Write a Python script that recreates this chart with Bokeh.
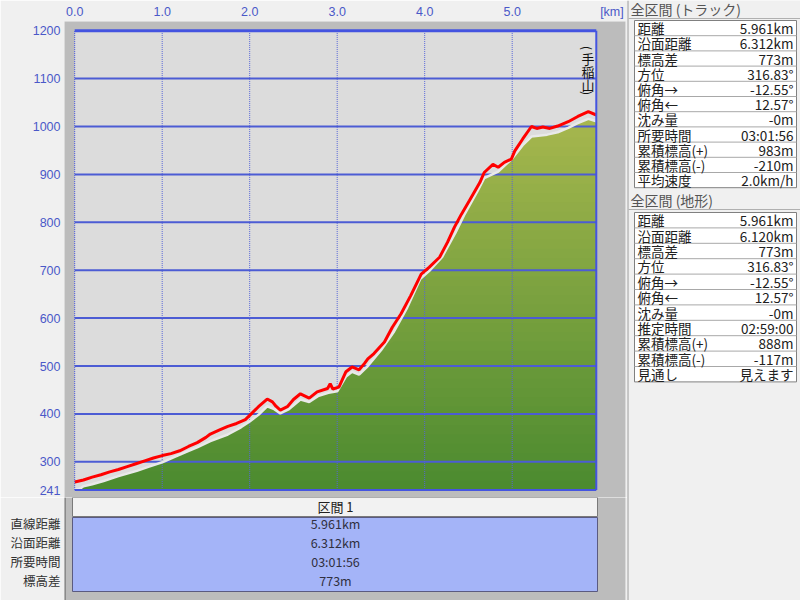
import numpy as np
from bokeh.plotting import figure
from bokeh.layouts import row, column
from bokeh.models import Range1d, FixedTicker, NumeralTickFormatter
from bokeh.core.properties import value
from bokeh.embed import file_html
from bokeh.resources import INLINE

# ---------------- data ----------------
track_km = [0.00, 0.10, 0.20, 0.30, 0.40, 0.50, 0.60, 0.70, 0.80, 0.90,
            1.00, 1.10, 1.20, 1.30, 1.40, 1.50, 1.55, 1.65, 1.75, 1.85,
            1.95, 2.00, 2.10, 2.20, 2.26, 2.30, 2.35, 2.43, 2.50, 2.58,
            2.68, 2.77, 2.89, 2.92, 2.95, 3.02, 3.10, 3.17, 3.25, 3.31,
            3.35, 3.42, 3.54, 3.63, 3.73, 3.84, 3.96, 4.05, 4.17, 4.26,
            4.34, 4.42, 4.51, 4.63, 4.68, 4.78, 4.84, 4.91, 4.99, 5.03,
            5.12, 5.22, 5.28, 5.35, 5.43, 5.52, 5.64, 5.75, 5.87, 5.961]
track_m = [258, 262, 268, 273, 279, 284, 290, 296, 302, 308,
           313, 317, 323, 332, 340, 351, 358, 366, 374, 380,
           388, 397, 415, 431, 425, 416, 408, 415, 430, 442,
           433, 446, 453, 463, 452, 456, 488, 498, 492, 505,
           515, 526, 550, 581, 609, 647, 692, 706, 727, 758,
           790, 817, 845, 883, 904, 921, 915, 925, 932, 949,
           974, 1000, 996, 999, 996, 1001, 1010, 1021, 1031, 1024]

terrain_km = [0.00, 0.06, 0.10, 0.20, 0.33, 0.50, 0.71, 0.85, 1.00, 1.15,
              1.29, 1.40, 1.55, 1.75, 1.90, 2.00, 2.10, 2.20, 2.28, 2.35,
              2.45, 2.58, 2.68, 2.78, 2.90, 3.00, 3.10, 3.17, 3.25, 3.35,
              3.50, 3.65, 3.80, 3.95, 4.05, 4.20, 4.35, 4.45, 4.60, 4.68,
              4.84, 5.00, 5.12, 5.22, 5.40, 5.52, 5.64, 5.75, 5.87, 5.961]
terrain_m = [241, 244, 249, 253, 260, 270, 281, 290, 299, 311,
             322, 330, 343, 357, 372, 384, 398, 416, 410, 401,
             410, 430, 425, 437, 444, 447, 478, 488, 482, 500,
             533, 572, 622, 682, 698, 728, 778, 815, 864, 892,
             906, 933, 961, 979, 983, 988, 997, 1007, 1016, 1011]

x_ticks = [0, 1, 2, 3, 4, 5]
x_max = 5.961
km_unit_label = "[km]"
km_unit_pos = 6.14
y_min = 241
y_max = 1200
y_grid = [300, 400, 500, 600, 700, 800, 900, 1000, 1100]

peak_name = "手稲山"
peak_label_km = 5.865
peak_label_m = 1143

section_title = "区間 1"
section_labels = ["直線距離", "沿面距離", "所要時間", "標高差"]
section_values = ["5.961km", "6.312km", "03:01:56", "773m"]

track_title = "全区間 (トラック)"
track_labels = ["距離", "沿面距離", "標高差", "方位", "俯角→", "俯角←", "沈み量",
                "所要時間", "累積標高(+)", "累積標高(-)", "平均速度"]
track_values = ["5.961km", "6.312km", "773m", "316.83°", "-12.55°", "12.57°", "-0m",
                "03:01:56", "983m", "-210m", "2.0km/h"]

terrain_title = "全区間 (地形)"
terrain_labels = ["距離", "沿面距離", "標高差", "方位", "俯角→", "俯角←", "沈み量",
                  "推定時間", "累積標高(+)", "累積標高(-)", "見通し"]
terrain_values = ["5.961km", "6.120km", "773m", "316.83°", "-12.55°", "12.57°", "-0m",
                  "02:59:00", "888m", "-117m", "見えます"]

# ---------------- style ----------------
JP = value("Noto Sans CJK JP")
BLUE = "#4a58c8"
GRID = "#4c5cd4"
PANEL_BG = "#f0f0f0"
FRAME_GRAY = "#bcbcbc"
TXT = "#202020"


def plain_axis(ax, standoff, color, font, size):
    ax.axis_line_color = None
    ax.major_tick_line_color = None
    ax.minor_tick_line_color = None
    ax.major_tick_out = 0
    ax.major_tick_in = 0
    ax.major_label_standoff = standoff
    ax.major_label_text_color = color
    ax.major_label_text_font = font
    ax.major_label_text_font_size = size


# ---------------- chart ----------------
PX_KM = 87.5
PX_M = 0.479
FW, FH = 561, 476
X0_PX = 10.2      # 0 km from frame left
YT_PX = 9.2       # top value from frame top
x_start = -X0_PX / PX_KM
x_end = x_start + FW / PX_KM
y_end = y_max + YT_PX / PX_M
y_start = y_end - FH / PX_M

p = figure(width=627, height=497, x_range=Range1d(x_start, x_end),
           y_range=Range1d(y_start, y_end), output_backend="svg",
           toolbar_location=None, x_axis_location="above",
           min_border_left=64, min_border_right=2, min_border_top=21, min_border_bottom=0,
           background_fill_color=FRAME_GRAY, border_fill_color=PANEL_BG,
           outline_line_color=None)
p.grid.visible = False

xa = p.xaxis[0]
xa.ticker = FixedTicker(ticks=x_ticks + [km_unit_pos])
xa.formatter = NumeralTickFormatter(format="0.0")
xa.major_label_overrides = {km_unit_pos: km_unit_label}
ya = p.yaxis[0]
ya.ticker = FixedTicker(ticks=[y_min] + y_grid + [y_max])
plain_axis(xa, 3, BLUE, "Liberation Sans", "12.5px")
plain_axis(ya, 4, BLUE, "Liberation Sans", "12.5px")

# plot area background
p.quad(left=[0], right=[x_max], bottom=[y_min], top=[y_max],
       fill_color="#dcdcdc", line_color=None)

# terrain fill with vertical gradient (bands)
terr = np.array(terrain_m, dtype=float)
c_bot = np.array([0x4a, 0x8a, 0x2f])
c_top = np.array([0xa6, 0xb7, 0x4e])
top_lvl = terr.max()
levels = np.linspace(top_lvl, y_min, 40, endpoint=False)
for lv in levels:
    f = (lv - y_min) / (top_lvl - y_min)
    c = (c_bot + (c_top - c_bot) * f).astype(int)
    col = "#%02x%02x%02x" % tuple(c)
    p.varea(x=terrain_km, y1=[y_min] * len(terrain_km), y2=np.minimum(terr, lv),
            fill_color=col)

# grid
p.segment(x0=[0] * len(y_grid), x1=[x_max] * len(y_grid), y0=y_grid, y1=y_grid,
          line_color=GRID, line_width=2)
vx = x_ticks[1:]
p.segment(x0=vx, x1=vx, y0=[y_min] * len(vx), y1=[y_max] * len(vx),
          line_color="#5666d8", line_width=1, line_dash="1 1")

# terrain edge and track
p.line(terrain_km, terrain_m, line_color="#e9e9e9", line_width=2.5)
p.line(track_km, track_m, line_color="#ff0000", line_width=3)

# plot border
p.segment(x0=[0], x1=[x_max], y0=[y_max], y1=[y_max], line_color="#4454e0", line_width=3)
p.segment(x0=[0], x1=[x_max], y0=[y_min], y1=[y_min], line_color="#4454e0", line_width=2)
p.segment(x0=[x_max], x1=[x_max], y0=[y_min], y1=[y_max], line_color="#4454e0", line_width=2)
p.segment(x0=[0], x1=[0], y0=[y_min], y1=[y_max], line_color="#4454e0", line_width=1,
          line_dash="1 1")

# vertical peak label (tategaki)
kanji = list(peak_name)
ky = peak_label_m - np.arange(len(kanji)) * 13 / PX_M
p.text(x=[peak_label_km] * len(kanji), y=list(ky), text=kanji,
       text_align="center", text_baseline="middle", text_font=JP,
       text_font_size="13px", text_color="#101010")
py_ = [peak_label_m + 10 / PX_M, peak_label_m - 35 / PX_M]
p.text(x=[peak_label_km] * 2, y=py_, text=["(", ")"], angle=-np.pi / 2,
       text_align="center", text_baseline="middle", text_font=JP,
       text_font_size="12px", text_color="#101010")

# ---------------- section table ----------------
ry = [523 + 19 * i for i in range(len(section_values))]
t = figure(width=627, height=103, x_range=Range1d(64, 625), y_range=Range1d(600, 497),
           x_axis_type=None, output_backend="svg",
           toolbar_location=None, min_border_left=64, min_border_right=2,
           min_border_top=0, min_border_bottom=0,
           background_fill_color=FRAME_GRAY, border_fill_color=PANEL_BG,
           outline_line_color=None)
t.grid.visible = False
ta = t.yaxis[0]
ta.ticker = FixedTicker(ticks=ry)
ta.major_label_overrides = {v: s for v, s in zip(ry, section_labels)}
plain_axis(ta, 4, "#303030", "Noto Sans CJK JP", "12.5px")

t.segment(x0=[64], x1=[64], y0=[497], y1=[600], line_color="#8a8a8a", line_width=3)
t.quad(left=[72], right=[597], top=[497], bottom=[516], fill_color="#f2f2f2",
       line_color="#7a7a7a", line_width=1)
t.quad(left=[72], right=[597], top=[517], bottom=[591], fill_color="#a4b4f8",
       line_color="#5a5a80", line_width=1)
t.text(x=[335], y=[506], text=[section_title], text_align="center", text_baseline="middle",
       text_font=JP, text_font_size="13px", text_color=TXT)
t.text(x=[335] * len(ry), y=ry, text=section_values, text_align="center",
       text_baseline="middle", text_font=JP, text_font_size="12.5px", text_color="#303040")

# ---------------- right panel ----------------
r = figure(width=173, height=600, x_range=Range1d(627, 800), y_range=Range1d(600, 0),
           x_axis_type=None, y_axis_type=None, output_backend="svg",
           toolbar_location=None, min_border=0, min_border_left=0, min_border_right=0,
           min_border_top=0, min_border_bottom=0,
           background_fill_color=PANEL_BG, border_fill_color=PANEL_BG,
           outline_line_color=None)
r.grid.visible = False
r.segment(x0=[627], x1=[627], y0=[0], y1=[600], line_color="#9a9a9a", line_width=2)


def panel_block(title, labels, values, title_y, box_top, row_h):
    r.text(x=[630], y=[title_y], text=[title], text_align="left", text_baseline="middle",
           text_font=JP, text_font_size="14px", text_color="#555555")
    r.segment(x0=[628], x1=[800], y0=[title_y + 10], y1=[title_y + 10],
              line_color="#b0b0b0", line_width=1)
    n = len(labels)
    box_bot = box_top + n * row_h
    r.quad(left=[634], right=[796], top=[box_top], bottom=[box_bot],
           fill_color="#ffffff", line_color="#808080", line_width=1)
    seps = [box_top + row_h * (i + 1) for i in range(n - 1)]
    r.segment(x0=[634] * len(seps), x1=[796] * len(seps), y0=seps, y1=seps,
              line_color="#a8a8a8", line_width=1)
    cy = [box_top + row_h * (i + 0.5) for i in range(n)]
    r.text(x=[637] * n, y=cy, text=labels, text_align="left", text_baseline="middle",
           text_font=JP, text_font_size="13.5px", text_color=TXT)
    r.text(x=[793] * n, y=cy, text=values, text_align="right", text_baseline="middle",
           text_font=JP, text_font_size="13.5px", text_color=TXT)


panel_block(track_title, track_labels, track_values, 8, 20, 15.2)
panel_block(terrain_title, terrain_labels, terrain_values, 199, 212, 15.4)

layout = row(column(p, t), r)
open("out.html", "w").write(file_html(layout, INLINE))
